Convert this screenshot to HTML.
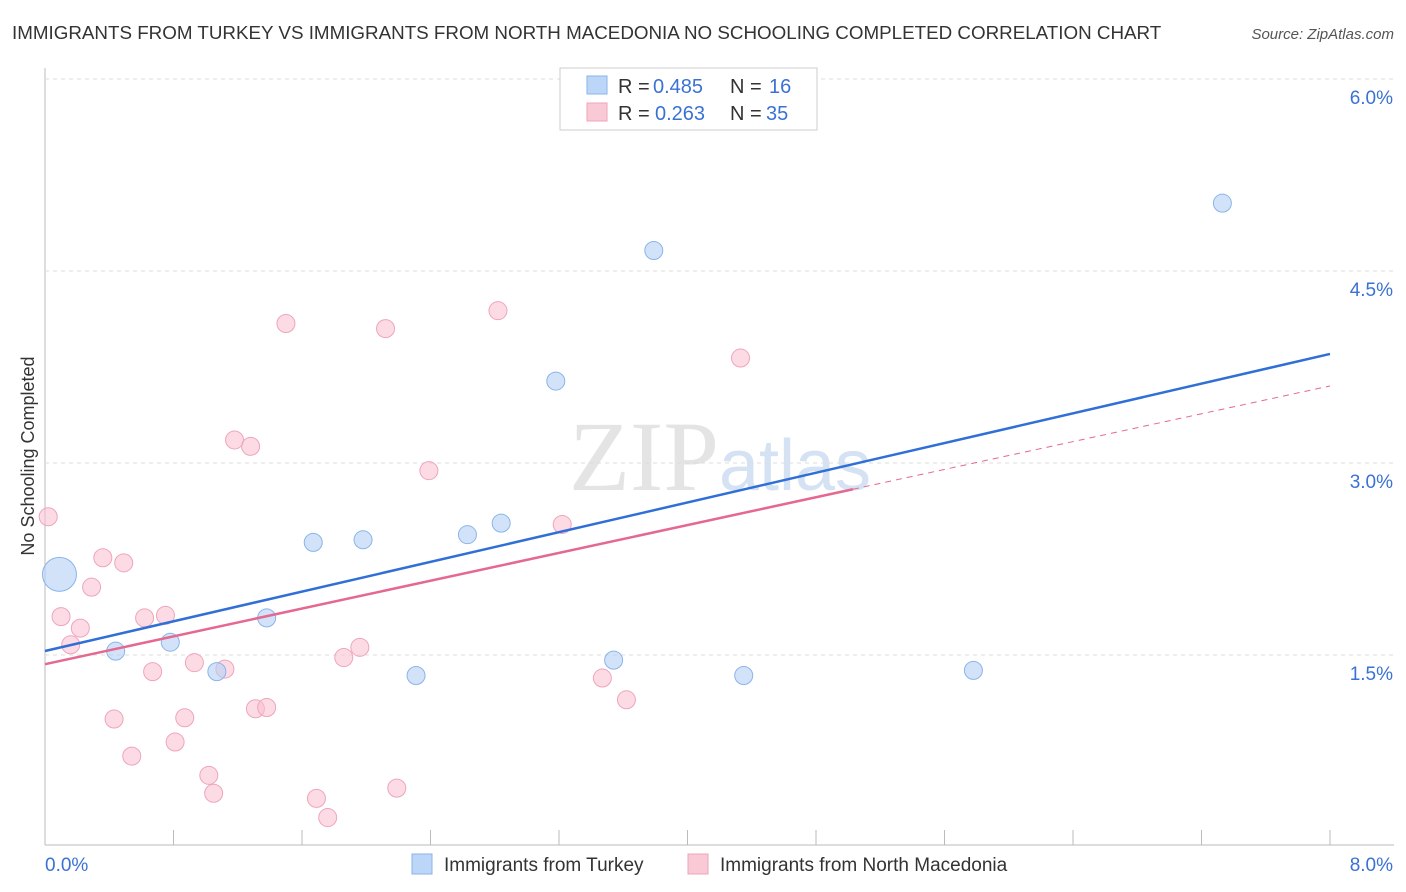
<!DOCTYPE html>
<html><head><meta charset="utf-8"><style>
body{margin:0;background:#fff;font-family:"Liberation Sans",sans-serif}
svg{display:block}
</style></head><body>
<svg id="c" width="1406" height="892">
<text x="12" y="39" font-size="18.8" fill="#333">IMMIGRANTS FROM TURKEY VS IMMIGRANTS FROM NORTH MACEDONIA NO SCHOOLING COMPLETED CORRELATION CHART</text>
<text x="1394" y="39" font-size="15" fill="#555" font-style="italic" text-anchor="end">Source: ZipAtlas.com</text>
<text x="720" y="490" font-size="100" fill="#e4e4e4" font-family="Liberation Serif" text-anchor="middle">ZIP<tspan fill="#d4e2f3" font-family="Liberation Sans" font-size="72">atlas</tspan></text>
<text transform="translate(34,456) rotate(-90)" font-size="18" fill="#333" text-anchor="middle">No Schooling Completed</text>
<g id="grid"></g><g id="marks"></g>
<g>
<rect x="560" y="68" width="257" height="62" fill="#fff" stroke="#ccc"/>
<rect x="587" y="76" width="20" height="18" fill="#bcd6f7" stroke="#8ab4ea"/>
<rect x="587" y="103" width="20" height="18" fill="#f9c9d6" stroke="#eea5ba"/>
<text x="618" y="93" font-size="20" fill="#333">R = </text>
<text x="653" y="93" font-size="20" fill="#3a72d4">0.485</text>
<text x="730" y="93" font-size="20" fill="#333">N = </text>
<text x="769" y="93" font-size="20" fill="#3a72d4">16</text>
<text x="618" y="120" font-size="20" fill="#333">R = </text>
<text x="655" y="120" font-size="20" fill="#3a72d4">0.263</text>
<text x="730" y="120" font-size="20" fill="#333">N = </text>
<text x="766" y="120" font-size="20" fill="#3a72d4">35</text>
</g>
<g>
<rect x="412" y="854" width="20" height="20" fill="#bcd6f7" stroke="#8ab4ea"/>
<text x="444" y="871" font-size="19" fill="#333">Immigrants from Turkey</text>
<rect x="688" y="854" width="20" height="20" fill="#f9c9d6" stroke="#eea5ba"/>
<text x="720" y="871" font-size="19" fill="#333">Immigrants from North Macedonia</text>
</g>
</svg>
<script>
const xTicks=["0.0%","8.0%"];
const yTicks=[1.5,3.0,4.5,6.0];
const turkeyX=[0.09,0.44,0.78,1.07,1.38,1.67,1.98,2.31,2.63,2.84,3.18,3.54,3.79,4.35,5.78,7.33];
const turkeyY=[2.13,1.53,1.60,1.37,1.79,2.38,2.40,1.34,2.44,2.53,3.64,1.46,4.66,1.34,1.38,5.03];
const turkeyR=[17,9,9,9,9,9,9,9,9,9,9,9,9,9,9,9];
const macX=[0.02,0.10,0.16,0.22,0.29,0.36,0.49,0.43,0.54,0.62,0.67,0.75,0.81,0.87,0.93,1.02,1.05,1.12,1.18,1.28,1.31,1.38,1.50,1.69,1.76,1.86,1.96,2.12,2.19,2.39,2.82,3.22,3.47,3.62,4.33];
const macY=[2.58,1.80,1.58,1.71,2.03,2.26,2.22,1.00,0.71,1.79,1.37,1.81,0.82,1.01,1.44,0.56,0.42,1.39,3.18,3.13,1.08,1.09,4.09,0.38,0.23,1.48,1.56,4.05,0.46,2.94,4.19,2.52,1.32,1.15,3.82];
const X0=45,X1=1330,Y0=847,PX=128;
const sx=v=>X0+(v/8)*(X1-X0), sy=v=>Y0-v*PX;
const NS="http://www.w3.org/2000/svg";
function mk(t,a,p){const e=document.createElementNS(NS,t);for(const k in a)e.setAttribute(k,a[k]);p.appendChild(e);return e;}
const g=document.getElementById('grid'),m=document.getElementById('marks');
let e=mk('line',{x1:45,y1:68,x2:45,y2:845,stroke:'#bbb'},g);

e=mk('line',{x1:45,y1:845,x2:1394,y2:845,stroke:'#bbb'},g);

for(let i=0;i<=10;i++){const x=sx(i*0.8);e=mk('line',{x1:x,y1:830,x2:x,y2:845,stroke:'#bbb'},g);
}
yTicks.forEach(v=>{const y=sy(v);e=mk('line',{x1:45,y1:y,x2:1394,y2:y,stroke:'#ddd','stroke-dasharray':'4,4'},g);

const t=mk('text',{x:1393,y:y+25,'font-size':19,fill:'#3a72d4','text-anchor':'end'},g);t.textContent=v.toFixed(1)+'%';
});
[[0,'start',45],[1,'end',1393]].forEach(([i,a,x])=>{const t=mk('text',{x:x,y:871,'font-size':19,fill:'#3a72d4','text-anchor':a},g);t.textContent=xTicks[i];
});
function fit(xs,ys){const n=xs.length,mx=xs.reduce((a,b)=>a+b)/n,my=ys.reduce((a,b)=>a+b)/n;let sxy=0,sxx=0;xs.forEach((x,i)=>{sxy+=(x-mx)*(ys[i]-my);sxx+=(x-mx)**2});const b=sxy/sxx;return [my-b*mx,b];}
macX.forEach((x,i)=>{e=mk('circle',{cx:sx(x),cy:sy(macY[i]),r:9,fill:'rgba(249,190,207,0.55)',stroke:'#eea5ba','stroke-width':1},m);
});
turkeyX.forEach((x,i)=>{e=mk('circle',{cx:sx(x),cy:sy(turkeyY[i]),r:turkeyR[i],fill:'rgba(180,208,245,0.6)',stroke:'#8ab4ea','stroke-width':1},m);
});
let [a,b]=fit(turkeyX,turkeyY);
e=mk('line',{x1:sx(0),y1:sy(a),x2:sx(8),y2:sy(a+8*b),stroke:'#2f6fd6','stroke-width':2.5},m);

[a,b]=fit(macX,macY);const xm=Math.max(...macX)+0.7;
e=mk('line',{x1:sx(0),y1:sy(a),x2:sx(xm),y2:sy(a+xm*b),stroke:'#e4688f','stroke-width':2.5},m);

e=mk('line',{x1:sx(xm),y1:sy(a+xm*b),x2:sx(8),y2:sy(a+8*b),stroke:'#e4688f','stroke-width':1,'stroke-dasharray':'6,5'},m);

</script>
</body></html>
